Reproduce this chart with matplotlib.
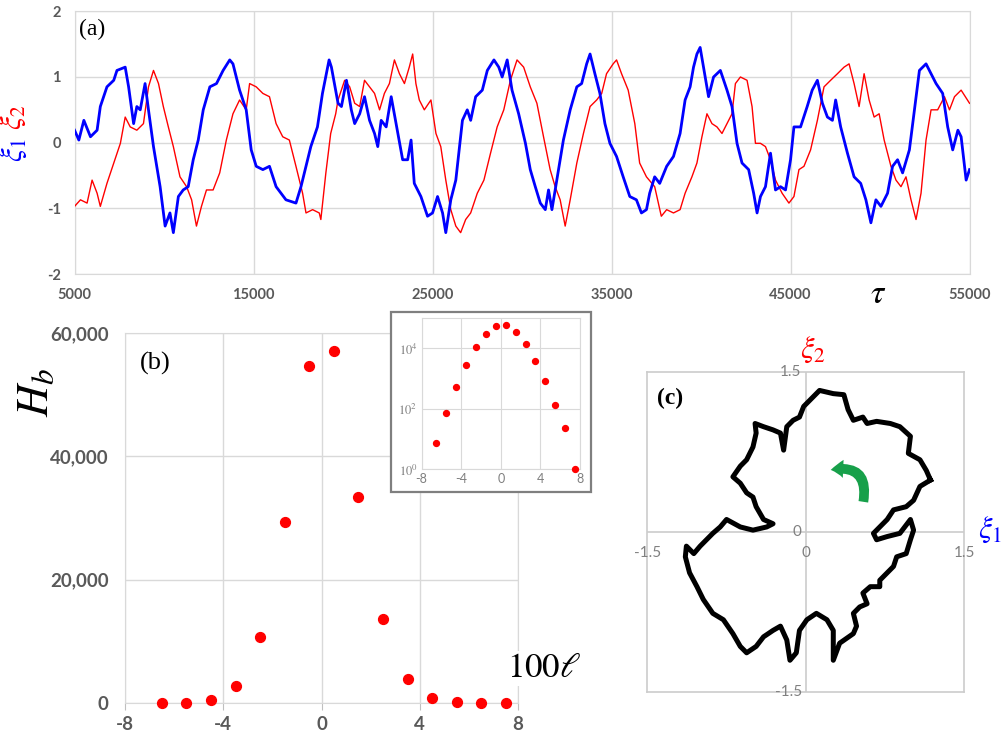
import matplotlib
matplotlib.use('Agg')
import matplotlib.pyplot as plt
from matplotlib.patches import Rectangle, FancyArrowPatch

plt.rcParams['mathtext.fontset'] = 'stix'
plt.rcParams['font.family'] = ['Lato', 'DejaVu Sans']
plt.rcParams['axes.unicode_minus'] = False

# ---- data ----
# (a) time series
tau_b = [5000, 5240, 5520, 5890, 6260, 6440, 6810, 7190, 7370, 7830, 8020, 8300, 8480, 8670, 8940, 9130,
         9410, 9780, 10060, 10330, 10520, 10800, 11070, 11350, 11630, 11910, 12190, 12560, 12930, 13300,
         13670, 13850, 14220, 14590, 14870, 15150, 15520, 15890, 16260, 16810, 17370, 17650, 17930, 18200,
         18570, 18850, 19220, 19350, 19720, 19910, 20190, 20460, 20650, 20930, 21200, 21480, 21760, 21940,
         22130, 22410, 22690, 23060, 23330, 23610, 23800, 23980, 24350, 24720, 25000, 25280, 25560, 25740,
         26020, 26300, 26670, 26940, 27130, 27410, 27780, 28060, 28430, 28700, 28890, 29170, 29440, 29810,
         30190, 30460, 30740, 31020, 31300, 31480, 31670, 31940, 32310, 32690, 33060, 33330, 33610, 33800,
         34070, 34350, 34630, 34910, 35280, 35650, 36020, 36390, 36670, 36950, 37130, 37410, 37690, 38080,
         38460, 38830, 39110, 39390, 39580, 39770, 39950, 40140, 40420, 40700, 41080, 41450, 41730, 42010,
         42290, 42660, 42940, 43130, 43320, 43600, 43880, 44160, 44440, 44720, 45000, 45190, 45560, 45930,
         46210, 46500, 46780, 47060, 47340, 47520, 47800, 48180, 48550, 48920, 49210, 49490, 49770, 50050,
         50420, 50700, 50980, 51260, 51640, 51920, 52200, 52570, 52850, 53130, 53500, 53780, 54060, 54350,
         54530, 54810, 55000]
xi1 = [0.19, 0.04, 0.34, 0.09, 0.19, 0.55, 0.85, 0.95, 1.10, 1.15, 0.85, 0.29, 0.55, 0.50, 0.90, 0.50,
       -0.06, -0.67, -1.27, -1.07, -1.37, -0.82, -0.72, -0.67, -0.26, 0.04, 0.50, 0.85, 0.90, 1.10,
       1.26, 1.20, 0.80, 0.50, -0.11, -0.36, -0.41, -0.36, -0.67, -0.87, -0.92, -0.67, -0.36, -0.06,
       0.24, 0.75, 1.26, 1.15, 0.60, 0.55, 0.95, 0.50, 0.29, 0.44, 0.70, 0.34, 0.14, -0.06,
       0.34, 0.24, 0.70, 0.14, -0.26, -0.26, 0.04, -0.62, -0.82, -1.12, -1.07, -0.82, -1.07, -1.37,
       -0.87, -0.57, 0.34, 0.50, 0.34, 0.70, 0.80, 1.10, 1.26, 1.15, 1.00, 1.26, 0.80, 0.44,
       -0.01, -0.41, -0.67, -0.92, -1.02, -0.72, -1.02, -0.57, 0.04, 0.50, 0.85, 0.90, 1.20, 1.35,
       1.05, 0.75, 0.29, -0.01, -0.21, -0.52, -0.82, -0.87, -1.07, -1.02, -0.77, -0.52, -0.62, -0.36,
       -0.21, 0.14, 0.65, 0.85, 1.15, 1.35, 1.45, 1.15, 0.70, 1.00, 1.10, 0.80, 0.55, -0.01,
       -0.31, -0.41, -0.77, -1.07, -0.82, -0.67, -0.16, -0.72, -0.67, -0.72, -0.26, 0.24, 0.24, 0.55,
       0.80, 0.95, 0.60, 0.39, 0.34, 0.65, 0.24, -0.16, -0.52, -0.62, -0.87, -1.22, -0.87, -0.97,
       -0.77, -0.36, -0.26, -0.46, -0.11, 0.50, 1.10, 1.20, 1.05, 0.90, 0.75, 0.24, -0.11, 0.19,
       0.09, -0.57, -0.41]

tau_r = [5000, 5330, 5700, 5980, 6260, 6440, 6810, 7190, 7560, 7830, 8110, 8480, 8850, 9130, 9410, 9690,
         9960, 10240, 10520, 10890, 11260, 11540, 11810, 12090, 12370, 12740, 13110, 13480, 13850, 14220,
         14590, 14780, 15150, 15520, 15890, 16260, 16630, 17000, 17370, 17740, 17930, 18300, 18670, 18760,
         19040, 19310, 19590, 19720, 20090, 20370, 20650, 20930, 21200, 21480, 21760, 22040, 22310, 22590,
         22870, 23150, 23430, 23700, 23890, 24070, 24260, 24540, 24910, 25190, 25460, 25740, 26020, 26300,
         26570, 26850, 27130, 27500, 27870, 28240, 28610, 28980, 29350, 29720, 30090, 30460, 30830, 31200,
         31570, 31850, 32130, 32410, 32690, 33060, 33430, 33800, 34170, 34450, 34720, 35090, 35280, 35560,
         35930, 36300, 36570, 36950, 37410, 37780, 38080, 38460, 38830, 39110, 39490, 39770, 40050, 40330,
         40610, 40890, 41170, 41450, 41730, 41920, 42200, 42570, 42850, 43040, 43320, 43600, 43880, 44160,
         44530, 44910, 45190, 45470, 45750, 46120, 46500, 46870, 47240, 47620, 47990, 48270, 48550, 48830,
         49110, 49390, 49670, 49950, 50230, 50610, 50890, 51170, 51450, 51730, 52010, 52290, 52570, 52850,
         53220, 53600, 53880, 54160, 54530, 55000]
xi2 = [-0.97, -0.87, -0.92, -0.57, -0.77, -0.97, -0.62, -0.31, -0.01, 0.39, 0.24, 0.19, 0.29, 0.85, 1.10, 0.90,
       0.55, 0.24, -0.06, -0.52, -0.67, -0.87, -1.27, -0.97, -0.72, -0.72, -0.46, 0.04, 0.44, 0.65,
       0.50, 0.90, 0.85, 0.75, 0.70, 0.29, 0.09, 0.04, -0.36, -0.77, -1.07, -1.02, -1.07, -1.17,
       -0.46, 0.14, 0.44, 0.65, 0.95, 0.85, 0.60, 0.55, 0.95, 0.85, 0.75, 0.50, 0.75, 0.90,
       1.26, 1.05, 0.90, 1.15, 1.35, 0.90, 0.65, 0.50, 0.65, 0.14, -0.06, -0.57, -1.02, -1.27,
       -1.37, -1.17, -1.07, -0.77, -0.57, -0.16, 0.24, 0.50, 0.95, 1.26, 1.15, 0.85, 0.60, 0.09,
       -0.41, -0.67, -0.87, -1.27, -0.87, -0.31, 0.14, 0.55, 0.65, 0.75, 1.05, 1.20, 1.26, 1.05,
       0.80, 0.29, -0.31, -0.52, -0.67, -1.12, -1.02, -1.07, -1.02, -0.77, -0.52, -0.31, 0.09, 0.44,
       0.29, 0.24, 0.14, 0.29, 0.44, 0.90, 1.00, 0.95, 0.55, -0.01, -0.01, -0.06, -0.26, -0.57,
       -0.77, -0.92, -0.82, -0.41, -0.36, -0.11, 0.34, 0.85, 0.95, 1.05, 1.15, 1.20, 0.90, 0.55,
       1.05, 0.65, 0.39, 0.44, 0.04, -0.36, -0.57, -0.67, -0.52, -0.87, -1.17, -0.77, 0.04, 0.50,
       0.50, 0.70, 0.50, 0.70, 0.80, 0.60]

tau_ticks = [5000, 15000, 25000, 35000, 45000, 55000]
xi_ticks = [-2, -1, 0, 1, 2]

# (b) histogram of bins
bins_l = [-6.5, -5.5, -4.5, -3.5, -2.5, -1.5, -0.5, 0.5, 1.5, 2.5, 3.5, 4.5, 5.5, 6.5, 7.5]
Hb = [7, 74, 530, 2750, 10650, 29350, 54600, 57130, 33400, 13570, 3900, 800, 130, 23, 1]
b_xticks = [-8, -4, 0, 4, 8]
b_yticks = [0, 20000, 40000, 60000]
b_ylabels = ['0', '20,000', '40,000', '60,000']

# (c) phase portrait (xi1, xi2)
c_x = [1.18, 1.14, 1.08, 0.97, 0.99, 0.89, 0.80, 0.67, 0.58, 0.54,
       0.45, 0.40, 0.36, 0.26, 0.13, 0.07, 0.04, -0.02, -0.06, -0.12,
       -0.18, -0.21, -0.24, -0.31, -0.40, -0.48, -0.47, -0.50, -0.56, -0.62,
       -0.69, -0.62, -0.56, -0.50, -0.47, -0.40, -0.31, -0.37, -0.50, -0.62,
       -0.75, -0.81, -0.88, -0.94, -1.00, -1.06, -1.13, -1.14, -1.10, -1.03,
       -0.97, -0.88, -0.78, -0.69, -0.62, -0.56, -0.47, -0.40, -0.31, -0.24,
       -0.18, -0.15, -0.09, -0.06, 0.01, 0.10, 0.20, 0.26, 0.26, 0.32,
       0.45, 0.48, 0.45, 0.51, 0.58, 0.54, 0.61, 0.70, 0.70, 0.77,
       0.83, 0.86, 0.95, 0.99, 1.02, 0.99, 0.89, 0.77, 0.67, 0.64,
       0.70, 0.77, 0.83, 0.95, 1.02, 1.08, 1.18]
c_y = [0.49, 0.58, 0.68, 0.74, 0.90, 0.99, 1.02, 1.04, 1.02, 1.08,
       1.05, 1.15, 1.29, 1.30, 1.33, 1.27, 1.24, 1.18, 1.08, 1.05,
       0.99, 0.77, 0.93, 0.96, 0.99, 1.02, 0.93, 0.80, 0.68, 0.62,
       0.52, 0.46, 0.37, 0.33, 0.24, 0.12, 0.08, 0.05, 0.02, 0.05,
       0.12, 0.05, -0.01, -0.07, -0.13, -0.20, -0.13, -0.23, -0.38, -0.51,
       -0.63, -0.76, -0.82, -0.95, -1.07, -1.13, -1.07, -0.98, -0.92, -0.88,
       -1.01, -1.20, -1.13, -0.92, -0.82, -0.76, -0.82, -0.92, -1.20, -1.04,
       -0.95, -0.88, -0.76, -0.70, -0.67, -0.57, -0.51, -0.51, -0.45, -0.38,
       -0.32, -0.23, -0.20, -0.07, 0.02, 0.12, -0.01, -0.04, -0.07, -0.01,
       0.05, 0.12, 0.21, 0.24, 0.30, 0.43, 0.49]
c_ticks = [-1.5, 0, 1.5]
c_ticklabels = ['-1.5', '0', '1.5']

GRID = '#d9d9d9'
TICK = '#595959'
SERIF = ['Liberation Serif', 'DejaVu Serif']

fig = plt.figure(figsize=(10.02, 7.4), dpi=100)

# ---------------- (a) ----------------
ax_a = fig.add_axes([0.0744, 0.6297, 0.8932, 0.355])
ax_a.plot(tau_r, xi2, color='#ff0000', lw=1.0, zorder=3)
ax_a.plot(tau_b, xi1, color='#0000ff', lw=2.0, zorder=4)
ax_a.set_xlim(5000, 55000)
ax_a.set_ylim(-2, 2)
ax_a.set_xticks(tau_ticks)
ax_a.set_yticks(xi_ticks)
ax_a.grid(True, color=GRID, lw=1)
ax_a.tick_params(length=0, labelsize=10.5, labelcolor=TICK, pad=10)
for lab in ax_a.get_xticklabels() + ax_a.get_yticklabels():
    lab.set_fontweight('bold')
for s in ax_a.spines.values():
    s.set_color(GRID)
ax_a.text(0.005, 0.97, '(a)', transform=ax_a.transAxes, ha='left', va='top',
          fontsize=17, family=SERIF)
fig.text(0.013, 0.842, r'$\xi_2$', color='#ff0000', rotation=90, fontsize=22,
         ha='center', va='center', family=SERIF)
fig.text(0.014, 0.797, r'$\xi_1$', color='#0000ff', rotation=90, fontsize=22,
         ha='center', va='center', family=SERIF)
fig.text(0.876, 0.602, r'$\tau$', fontsize=24, ha='center', va='center', family=SERIF)

# ---------------- (b) ----------------
ax_b = fig.add_axes([0.1248, 0.05, 0.3922, 0.5], zorder=0)
ax_b.scatter(bins_l, Hb, s=50, color='#ff0000', zorder=3, clip_on=False)
ax_b.set_xlim(-8, 8)
ax_b.set_ylim(0, 60000)
ax_b.set_xticks(b_xticks)
ax_b.set_yticks(b_yticks)
ax_b.set_yticklabels(b_ylabels)
ax_b.grid(True, color=GRID, lw=1)
ax_b.tick_params(axis='y', length=0, labelsize=13.5, labelcolor=TICK, pad=12)
ax_b.tick_params(axis='x', length=5, color='#bfbfbf', labelsize=13.5, labelcolor=TICK, pad=4)
for lab in ax_b.get_xticklabels() + ax_b.get_yticklabels():
    lab.set_fontweight('bold')
for s in ax_b.spines.values():
    s.set_color(GRID)
fig.text(0.14, 0.525, '(b)', ha='left', va='top', fontsize=19, family=SERIF)
fig.text(0.037, 0.47, r'$H_b$', rotation=90, fontsize=32, ha='center', va='center', family=SERIF)
fig.text(0.506, 0.085, r'$100\ell$', fontsize=25, ha='left', va='baseline', family=SERIF,
         bbox=dict(facecolor='white', edgecolor='none', pad=1), zorder=5)

# inset frame
fig.add_artist(Rectangle((0.3902, 0.3351), 0.1996, 0.2432, transform=fig.transFigure,
                         facecolor='white', edgecolor='#7f7f7f', lw=1.6, zorder=1))
ax_i = fig.add_axes([0.4207, 0.3662, 0.1582, 0.204], zorder=2)
ax_i.scatter(bins_l, Hb, s=18, color='#ff0000', zorder=3, clip_on=False)
ax_i.set_yscale('log')
ax_i.set_xlim(-8, 8)
ax_i.set_ylim(1, 1e5)
ax_i.set_xticks(b_xticks)
ax_i.set_yticks([1, 1e2, 1e4])
ax_i.set_yticklabels(['$10^0$', '$10^2$', '$10^4$'])
ax_i.minorticks_off()
ax_i.grid(True, color=GRID, lw=0.8)
ax_i.tick_params(length=0, labelsize=9, labelcolor='#7f7f7f', pad=3)
for s in ax_i.spines.values():
    s.set_color(GRID)

# ---------------- (c) ----------------
ax_c = fig.add_axes([0.646, 0.0645, 0.3164, 0.4324])
ax_c.plot(c_x, c_y, color='black', lw=3.6, solid_joinstyle='round', zorder=3)
ax_c.set_xlim(-1.5, 1.5)
ax_c.set_ylim(-1.5, 1.5)
ax_c.set_xticks([])
ax_c.set_yticks([])
ax_c.axhline(0, color='#cccccc', lw=1.2, zorder=1)
ax_c.axvline(0, color='#cccccc', lw=1.2, zorder=1)
for s in ax_c.spines.values():
    s.set_color('#cccccc')
    s.set_linewidth(1.2)
for v, lab in zip(c_ticks, c_ticklabels):
    ax_c.annotate(lab, xy=(v, 0), xytext=(0, -15), textcoords='offset points',
                  ha='center', va='center', fontsize=11, color='#808080', annotation_clip=False)
    ax_c.annotate(lab, xy=(0, v), xytext=(-3, 0), textcoords='offset points',
                  ha='right', va='center', fontsize=11, color='#808080', annotation_clip=False)
ax_c.text(0.03, 0.95, '(c)', transform=ax_c.transAxes, ha='left', va='top',
          fontsize=17, fontweight='bold', family=SERIF)
fig.text(0.811, 0.527, r'$\xi_2$', color='#ff0000', fontsize=22, ha='center', va='center', family=SERIF)
fig.text(0.988, 0.284, r'$\xi_1$', color='#0000ff', fontsize=22, ha='center', va='center', family=SERIF)
ax_c.add_patch(FancyArrowPatch((0.54, 0.26), (0.21, 0.58),
                               connectionstyle='arc3,rad=0.75',
                               arrowstyle='simple,head_width=13,head_length=9,tail_width=7',
                               mutation_scale=1, color='#17a04a', lw=0, zorder=4))

fig.savefig('out.png', dpi=100)
